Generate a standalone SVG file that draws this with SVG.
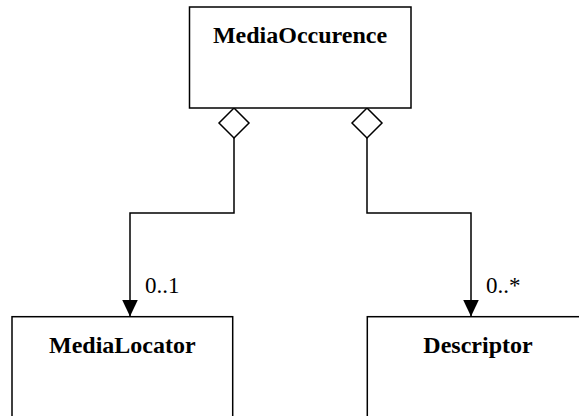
<svg xmlns="http://www.w3.org/2000/svg" width="579" height="416" viewBox="0 0 579 416">
<defs>
<style>
.box{fill:#fff;stroke:#000;stroke-width:1.5}
.name{font-family:"Liberation Serif","Times New Roman",serif;font-weight:bold;font-size:24px;text-anchor:middle;fill:#000}
.lbl{font-family:"Liberation Serif","Times New Roman",serif;font-size:23px;fill:#000}
.line{fill:none;stroke:#000;stroke-width:1.5}
.dia{fill:#fff;stroke:#000;stroke-width:1.5}
</style>
<marker id="arr" viewBox="0 0 17 16" refX="17" refY="8" markerWidth="17" markerHeight="16" markerUnits="userSpaceOnUse" orient="auto">
<path d="M0,0 L17,8 L0,16 Z" fill="#000"/>
</marker>
</defs>
<rect width="579" height="416" fill="#fff"/>
<g id="connectors">
<path class="line" d="M234,138 V213 H130 V316.5" marker-end="url(#arr)"/>
<polygon class="dia" points="234,108 249,123 234,138 219,123"/>
<path class="line" d="M367,138 V213 H471 V316.5" marker-end="url(#arr)"/>
<polygon class="dia" points="367,108 382,123 367,138 352,123"/>
<text class="lbl" x="145" y="293">0..1</text>
<text class="lbl" x="486" y="293">0..*</text>
</g>
<g id="MediaOccurence">
<rect class="box" x="189.5" y="7" width="221.5" height="101"/>
<text class="name" x="300" y="43">MediaOccurence</text>
</g>
<g id="MediaLocator">
<rect class="box" x="12" y="316.7" width="220.7" height="120"/>
<text class="name" x="122.3" y="353">MediaLocator</text>
</g>
<g id="Descriptor">
<rect class="box" x="367.3" y="316.7" width="222" height="120"/>
<text class="name" x="478" y="353">Descriptor</text>
</g>
</svg>
